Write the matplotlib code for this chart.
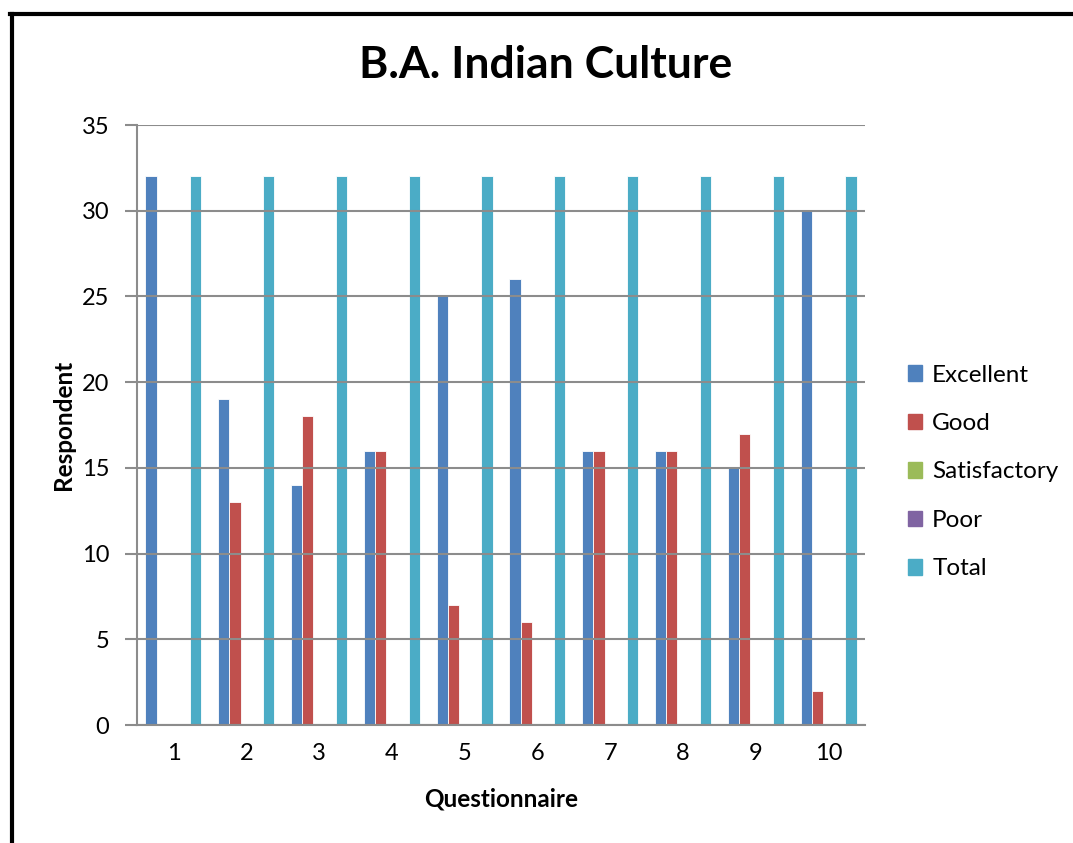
import matplotlib
matplotlib.use("Agg")
import matplotlib.pyplot as plt
from matplotlib.lines import Line2D
import numpy as np

plt.rcParams['font.family'] = ['Lato', 'DejaVu Sans']

categories = [1, 2, 3, 4, 5, 6, 7, 8, 9, 10]
series_names = ["Excellent", "Good", "Satisfactory", "Poor", "Total"]
excellent = [32, 19, 14, 16, 25, 26, 16, 16, 15, 30]
good = [0, 13, 18, 16, 7, 6, 16, 16, 17, 2]
satisfactory = [0, 0, 0, 0, 0, 0, 0, 0, 0, 0]
poor = [0, 0, 0, 0, 0, 0, 0, 0, 0, 0]
total = [32, 32, 32, 32, 32, 32, 32, 32, 32, 32]
colors = ["#4F81BD", "#C0504D", "#9BBB59", "#8064A2", "#4BACC6"]

fig = plt.figure(figsize=(10.73, 8.43), dpi=100)
ax = fig.add_axes([137/1073, 1-725/843, (865-137)/1073, (725-125)/843])

x = np.arange(len(categories)) + 1
w = 1/6.5
data = [excellent, good, satisfactory, poor, total]
for i, (vals, name, c) in enumerate(zip(data, series_names, colors)):
    ax.bar(x + (i-2)*w, vals, width=w, color=c, edgecolor='white', linewidth=0.6,
           label=name, zorder=2)

ax.set_xlim(0.5, 10.5)
ax.set_ylim(0, 35)
ax.set_yticks(range(0, 36, 5))
ax.set_xticks(x)
ax.set_xticklabels([str(c) for c in categories])
ax.yaxis.grid(True, color='#8c8c8c', linewidth=1.5, zorder=3)
ax.set_axisbelow(False)
for s in ['top', 'right']:
    ax.spines[s].set_visible(False)
for s in ['left', 'bottom']:
    ax.spines[s].set_color('#8c8c8c')
    ax.spines[s].set_linewidth(1.5)
    ax.spines[s].set_zorder(4)
ax.tick_params(axis='y', length=9, width=1.5, color='#8c8c8c', labelsize=17, pad=11)
ax.tick_params(axis='x', length=0, labelsize=17, pad=13)

ax.set_xlabel("Questionnaire", fontsize=17.5, fontweight='bold', labelpad=17)
ax.set_ylabel("Respondent", fontsize=17.5, fontweight='bold', labelpad=5)
fig.text(546/1073, 1-65/843, "B.A. Indian Culture", fontsize=32, fontweight='bold',
         ha='center', va='center')

handles = [plt.Rectangle((0, 0), 1, 1, color=c) for c in colors]
fig.legend(handles, series_names, loc='center left', bbox_to_anchor=(886/1073, 1-472/843),
           frameon=False, fontsize=17.5, handlelength=0.6, handleheight=0.6,
           labelspacing=1.13, handletextpad=0.4)

fig.add_artist(Line2D([11.5/1073, 11.5/1073], [0, 1-13.5/843], color='black', linewidth=3,
                      transform=fig.transFigure))
fig.add_artist(Line2D([10/1073, 1], [1-13.5/843, 1-13.5/843], color='black', linewidth=3,
                      transform=fig.transFigure))

fig.savefig("out.png", dpi=100)
